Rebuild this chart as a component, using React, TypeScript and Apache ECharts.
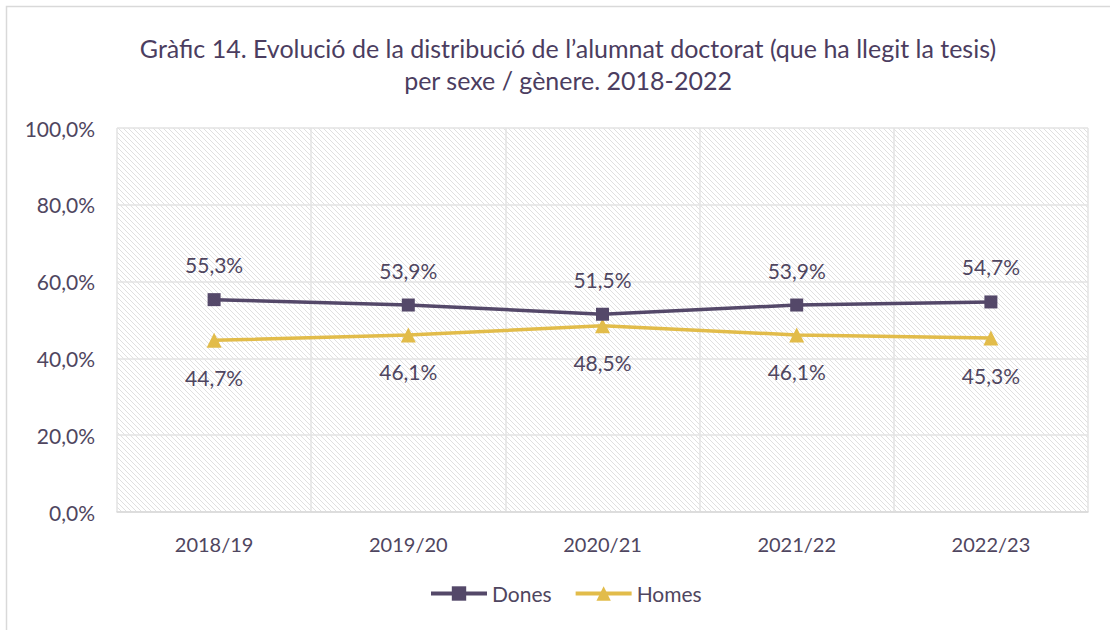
import React, { useEffect, useRef } from "react";
import * as echarts from "echarts";

const categories = ["2018/19", "2019/20", "2020/21", "2021/22", "2022/23"];
const dones = [55.3, 53.9, 51.5, 53.9, 54.7];
const homes = [44.7, 46.1, 48.5, 46.1, 45.3];
const yTicks = [0, 20, 40, 60, 80, 100];
const titleText =
  "Gràfic 14. Evolució de la distribució de l’alumnat doctorat (que ha llegit la tesis)\nper sexe / gènere. 2018-2022";

const FONT = "Lato, 'Open Sans', sans-serif";
const TXT = "#4f4660";

function makeHatch(): string {
  const c = document.createElement("canvas");
  const s = 5;
  c.width = s;
  c.height = s;
  const ctx = c.getContext("2d")!;
  ctx.fillStyle = "#ffffff";
  ctx.fillRect(0, 0, s, s);
  ctx.strokeStyle = "#e0e0e0";
  ctx.lineWidth = 1;
  ctx.beginPath();
  ctx.moveTo(-1, -1);
  ctx.lineTo(s + 1, s + 1);
  ctx.moveTo(-1, s - 1);
  ctx.lineTo(1, s + 1);
  ctx.moveTo(s - 1, -1);
  ctx.lineTo(s + 1, 1);
  ctx.stroke();
  return c.toDataURL();
}

const fmt = (v: number) => v.toFixed(1).replace(".", ",") + "%";

export default function App() {
  const ref = useRef<HTMLDivElement>(null);
  useEffect(() => {
    document.body.style.margin = "0";
    const chart = echarts.init(ref.current!, undefined, { renderer: "svg" });
    const hatch = makeHatch();
    chart.setOption({
      animation: false,
      backgroundColor: "#ffffff",
      title: {
        text: titleText,
        left: 563,
        textAlign: "center",
        top: 27,
        textStyle: {
          fontFamily: FONT,
          fontSize: 25,
          fontWeight: "normal",
          color: "#4b3d60",
          lineHeight: 32,
        },
      },
      graphic: [
        {
          type: "rect",
          shape: { x: 6.5, y: 6.5, width: 1200, height: 700 },
          style: { fill: "none", stroke: "#d9d9d9", lineWidth: 1.5 },
          silent: true,
          z: -1,
        },
      ],
      legend: {
        bottom: 21,
        left: 424,
        itemGap: 22,
        itemWidth: 56,
        itemHeight: 18,
        lineStyle: { width: 4 },
        textStyle: { fontFamily: FONT, fontSize: 21, color: TXT },
        data: ["Dones", "Homes"],
      },
      grid: {
        left: 117,
        right: 22,
        top: 128,
        bottom: 118,
        show: true,
        borderWidth: 0,
        backgroundColor: { image: hatch, repeat: "repeat" } as any,
      },
      xAxis: {
        type: "category",
        data: categories,
        boundaryGap: true,
        axisLine: { lineStyle: { color: "#d9d9d9", width: 1.5 } },
        axisTick: { show: false },
        splitLine: { show: true, lineStyle: { color: "#e3e3e3", width: 1.5 } },
        axisLabel: {
          fontFamily: FONT,
          fontSize: 20,
          color: TXT,
          margin: 22,
        },
      },
      yAxis: {
        type: "value",
        min: 0,
        max: 100,
        interval: 20,
        axisLine: { show: false },
        axisTick: { show: false },
        splitLine: { lineStyle: { color: "#e3e3e3", width: 1.5 } },
        axisLabel: {
          fontFamily: FONT,
          fontSize: 21,
          color: TXT,
          margin: 22,
          formatter: (v: number) => (yTicks.includes(v) ? fmt(v) : ""),
        },
      },
      series: [
        {
          name: "Dones",
          type: "line",
          data: dones,
          symbol: "rect",
          symbolSize: 13,
          lineStyle: { color: "#544869", width: 3.5 },
          itemStyle: { color: "#544869" },
          label: {
            show: true,
            position: "top",
            distance: 18,
            fontFamily: FONT,
            fontSize: 21,
            color: TXT,
            formatter: (p: any) => fmt(p.value),
          },
          z: 3,
        },
        {
          name: "Homes",
          type: "line",
          data: homes,
          symbol: "triangle",
          symbolSize: 15,
          lineStyle: { color: "#e2bc4a", width: 3.5 },
          itemStyle: { color: "#e2bc4a" },
          label: {
            show: true,
            position: "bottom",
            distance: 19,
            fontFamily: FONT,
            fontSize: 21,
            color: TXT,
            formatter: (p: any) => fmt(p.value),
          },
          z: 2,
        },
      ],
    });
    return () => chart.dispose();
  }, []);
  return <div ref={ref} style={{ width: 1110, height: 630 }} />;
}
